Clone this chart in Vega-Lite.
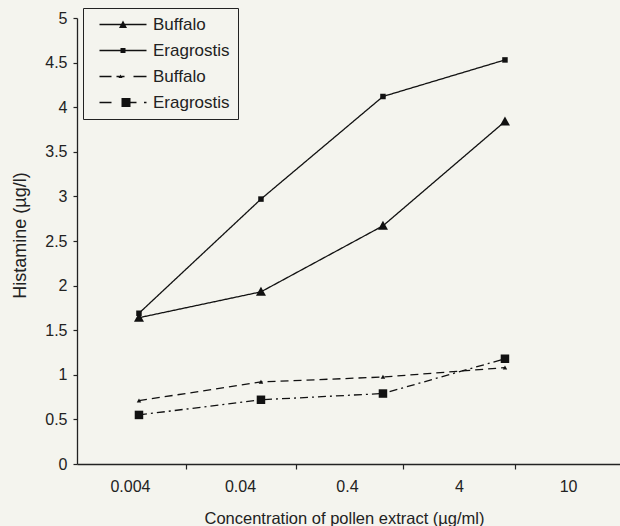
{
  "$schema": "https://vega.github.io/schema/vega-lite/v6.json",
  "autosize": {"type": "none"},
  "padding": {"left": 77, "top": 18, "right": 0, "bottom": 62},
  "width": 543,
  "height": 446,
  "background": "#f4f4ee",
  "config": {
    "view": {"stroke": null},
    "font": "Liberation Sans",
    "axis": {
      "labelFont": "Liberation Sans",
      "titleFont": "Liberation Sans",
      "labelColor": "#222",
      "titleColor": "#222",
      "domainColor": "#222",
      "tickColor": "#222",
      "domainWidth": 1.3,
      "tickWidth": 1.2,
      "grid": false,
      "titleFontWeight": "normal"
    },
    "legend": {"labelFont": "Liberation Sans"}
  },
  "data": {
    "values": [
      {"series": "Buffalo A", "step": 1, "v": 1.64},
      {"series": "Buffalo A", "step": 2, "v": 1.93},
      {"series": "Buffalo A", "step": 3, "v": 2.67},
      {"series": "Buffalo A", "step": 4, "v": 3.84},
      {"series": "Eragrostis A", "step": 1, "v": 1.69},
      {"series": "Eragrostis A", "step": 2, "v": 2.97},
      {"series": "Eragrostis A", "step": 3, "v": 4.12},
      {"series": "Eragrostis A", "step": 4, "v": 4.53},
      {"series": "Buffalo B", "step": 1, "v": 0.71},
      {"series": "Buffalo B", "step": 2, "v": 0.92},
      {"series": "Buffalo B", "step": 3, "v": 0.975},
      {"series": "Buffalo B", "step": 4, "v": 1.08},
      {"series": "Eragrostis B", "step": 1, "v": 0.55},
      {"series": "Eragrostis B", "step": 2, "v": 0.72},
      {"series": "Eragrostis B", "step": 3, "v": 0.79},
      {"series": "Eragrostis B", "step": 4, "v": 1.18}
    ]
  },
  "encoding": {
    "x": {
      "field": "step",
      "type": "quantitative",
      "scale": {"domain": [0.492, 4.943], "nice": false, "zero": false},
      "axis": {
        "title": "Concentration of pollen extract (µg/ml)",
        "titleFontSize": 16.5,
        "titleX": 267,
        "titleY": 54,
        "titleAlign": "center",
        "titleBaseline": "middle",
        "values": [0.926, 1.828, 2.705, 3.623, 4.517],
        "labelExpr": "datum.value < 1.5 ? '0.004' : datum.value < 2.5 ? '0.04' : datum.value < 3.2 ? '0.4' : datum.value < 4.2 ? '4' : '10'",
        "labelFontSize": 16,
        "labelPadding": 9,
        "tickSize": 5,
        "tickOffset": 56,
        "labelOffset": -56,
        "labelFlush": false,
        "labelOverlap": false
      }
    },
    "y": {
      "field": "v",
      "type": "quantitative",
      "scale": {"domain": [0, 5], "nice": false},
      "axis": {
        "title": "Histamine (µg/l)",
        "titleFontSize": 18,
        "titleX": -57,
        "titleY": 217,
        "titleAlign": "center",
        "titleBaseline": "middle",
        "values": [0, 0.5, 1, 1.5, 2, 2.5, 3, 3.5, 4, 4.5, 5],
        "format": "~g",
        "labelFontSize": 16,
        "labelPadding": 6,
        "tickSize": 4
      }
    }
  },
  "layer": [
    {
      "mark": {"type": "line", "color": "#111", "strokeWidth": 1.3},
      "encoding": {
        "detail": {"field": "series"},
        "strokeDash": {
          "field": "series",
          "type": "nominal",
          "scale": {
            "domain": ["Buffalo A", "Eragrostis A", "Buffalo B", "Eragrostis B"],
            "range": [[1, 0], [1, 0], [8, 5], [8, 4, 2, 4]]
          },
          "legend": null
        }
      }
    },
    {
      "mark": {"type": "point", "filled": true, "color": "#111", "size": 100, "opacity": 1},
      "encoding": {
        "shape": {
          "field": "series",
          "type": "nominal",
          "scale": {
            "domain": ["Buffalo A", "Eragrostis A", "Buffalo B", "Eragrostis B"],
            "range": [
              "M0,-1L1,0.8L-1,0.8Z",
              "M-0.55,-0.55H0.55V0.55H-0.55Z",
              "M0,-0.45L0.45,0.35L-0.45,0.35Z",
              "M-0.85,-0.85H0.85V0.85H-0.85Z"
            ]
          },
          "legend": null
        }
      }
    },
    {
      "transform": [{"filter": "datum.v < 0"}],
      "mark": {"type": "point", "filled": true, "color": "#111", "size": 100, "opacity": 1},
      "encoding": {
        "shape": {
          "field": "series",
          "type": "nominal",
          "scale": {
            "domain": ["Buffalo A", "Eragrostis A", "Buffalo B", "Eragrostis B"],
            "range": [
              "M0,-0.13H9.4V0.13H0ZM4.7,-0.8L5.5,0.7L3.9,0.7Z",
              "M0,-0.13H9.4V0.13H0ZM4.2,-0.5H5.2V0.5H4.2Z",
              "M0,-0.13H2.4V0.13H0ZM3.4,-0.13H5V0.13H3.4ZM6.8,-0.13H9.4V0.13H6.8ZM4.2,-0.4L4.6,0.3L3.8,0.3Z",
              "M0,-0.13H2.4V0.13H0ZM6.2,-0.13H7.4V0.13H6.2ZM8.9,-0.13H9.4V0.13H8.9ZM4.4,-0.9H6.2V0.9H4.4Z"
            ]
          },
          "legend": {
            "title": null,
            "orient": "none",
            "legendX": 6,
            "legendY": -10,
            "padding": 8,
            "strokeColor": "#222",
            "labelFontSize": 17,
            "labelColor": "#222",
            "labelOffset": 45,
            "rowPadding": 8,
            "symbolSize": 100,
            "symbolOpacity": 1,
            "symbolFillColor": "#111",
            "symbolStrokeColor": "#111",
            "symbolStrokeWidth": 0,
            "labelExpr": "split(datum.label, ' ')[0]"
          }
        }
      }
    }
  ],
  "resolve": {"scale": {"shape": "independent"}}
}
